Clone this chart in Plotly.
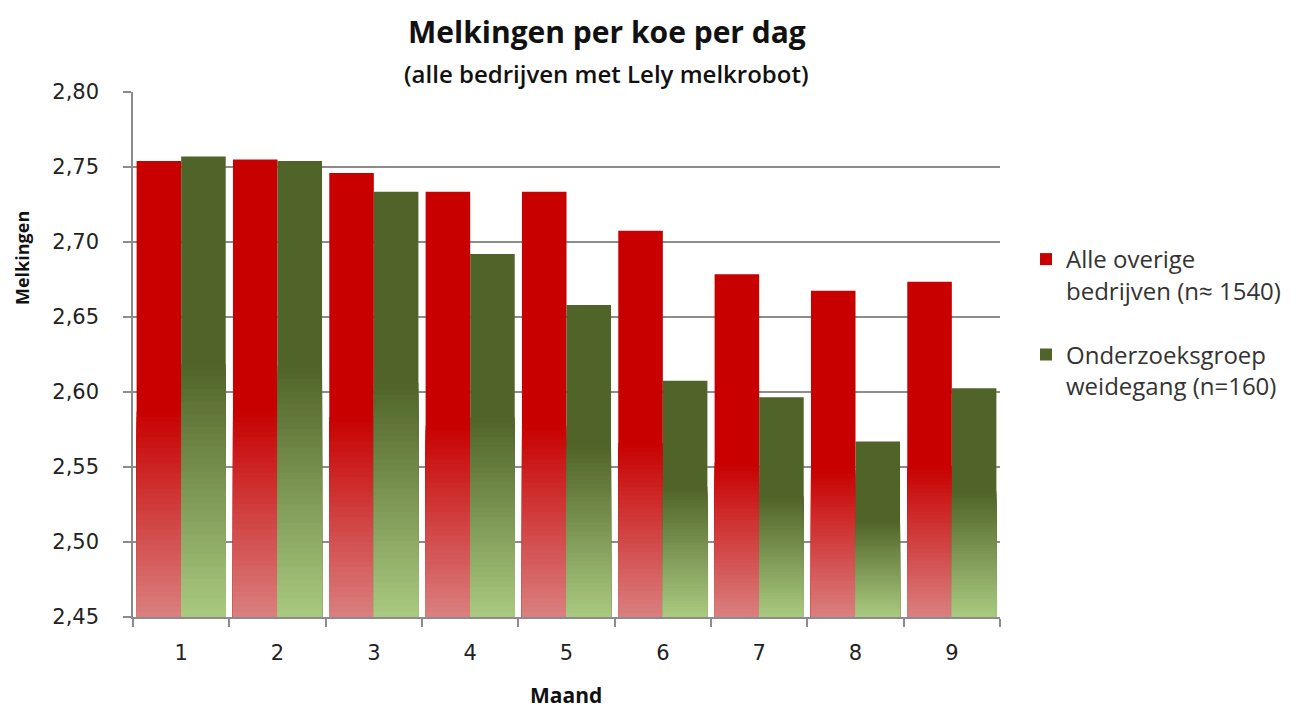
import plotly.graph_objects as go

months = ["1", "2", "3", "4", "5", "6", "7", "8", "9"]
overige = [2.754, 2.755, 2.746, 2.7335, 2.7335, 2.7075, 2.6785, 2.6675, 2.6735]
weidegang = [2.757, 2.754, 2.7335, 2.692, 2.658, 2.6075, 2.5965, 2.567, 2.6025]
series_names = ["Alle overige<br>bedrijven (n≈ 1540)", "Onderzoeksgroep<br>weidegang (n=160)"]
y_ticks = [2.45, 2.50, 2.55, 2.60, 2.65, 2.70, 2.75, 2.80]
y_min = 2.45

red_top = (200, 0, 0)
red_bottom = (218, 128, 128)
green_top = (80, 99, 40)
green_bottom = (170, 202, 128)


def rgb(c):
    return "rgb(%d,%d,%d)" % tuple(int(round(v)) for v in c)


def lerp(a, b, t):
    return tuple(a[k] + (b[k] - a[k]) * t for k in range(3))


fig = go.Figure()

specs = [
    (overige, series_names[0], "a", red_top, red_bottom, 0.45),
    (weidegang, series_names[1], "b", green_top, green_bottom, 0.55),
]

N = 40
for vals, name, grp, top, bottom, start in specs:
    fig.add_trace(go.Bar(
        x=months, y=vals, name=name, offsetgroup=grp, legendgroup=grp,
        marker=dict(color=rgb(top), line=dict(width=0)),
        hoverinfo="skip",
    ))
    for i in range(N):
        f_hi = start * (N - i) / N
        f_mid = start * (N - i - 0.5) / N
        t = 1 - f_mid / start
        col = lerp(top, bottom, t)
        fig.add_trace(go.Bar(
            x=months, y=[y_min + f_hi * (v - y_min) for v in vals],
            offsetgroup=grp, legendgroup=grp, showlegend=False, hoverinfo="skip",
            marker=dict(color=rgb(col), line=dict(width=0)),
        ))

# page is rendered with an 8px body margin; compensate so the plot lands where the reference has it
OFF = 8
PL, PR, PT, PB = 133, 1000, 92, 617
W, H = 1314 - OFF, 711 - OFF
pw, ph = PR - PL, PB - PT


def px(X):
    return (X - PL) / pw


def py(Y):
    return (PB - Y) / ph


fig.update_layout(
    width=W, height=H,
    paper_bgcolor="white", plot_bgcolor="white",
    separators=",.",
    barmode="group", bargap=0.075, bargroupgap=0,
    margin=dict(l=PL - OFF, r=1314 - PR, t=PT - OFF, b=711 - PB, autoexpand=False),
    font=dict(family="DejaVu Sans", size=21, color="#222"),
    showlegend=True,
    legend=dict(
        x=px(1026), y=py(237), xanchor="left", yanchor="top",
        font=dict(family="Open Sans", size=24, color="#333"),
        traceorder="grouped", tracegroupgap=30, itemwidth=30, valign="top",
        bgcolor="rgba(0,0,0,0)",
    ),
    annotations=[
        dict(text="Melkingen per koe per dag", x=px(607), y=py(31), xref="paper", yref="paper",
             xanchor="center", yanchor="middle", showarrow=False,
             font=dict(family="Open Sans", size=30, weight="bold", color="#111")),
        dict(text="(alle bedrijven met Lely melkrobot)", x=px(606), y=py(73), xref="paper", yref="paper",
             xanchor="center", yanchor="middle", showarrow=False,
             font=dict(family="Open Sans", size=24, weight=600, color="#111")),
        dict(text="Melkingen", x=px(22), y=py(258), xref="paper", yref="paper", textangle=-90,
             xanchor="center", yanchor="middle", showarrow=False,
             font=dict(family="Open Sans", size=18, weight="bold", color="#111")),
        dict(text="Maand", x=px(566), y=py(695), xref="paper", yref="paper",
             xanchor="center", yanchor="middle", showarrow=False,
             font=dict(family="Open Sans", size=21, weight="bold", color="#111")),
    ],
)

fig.update_yaxes(
    range=[2.45, 2.80], tickvals=y_ticks, tickformat=".2f",
    showgrid=True, gridcolor="#8c8c8c", gridwidth=1.5,
    showline=True, linecolor="#8c8c8c", linewidth=1.5,
    ticks="outside", ticklen=8, tickcolor="#8c8c8c", tickwidth=1.5,
    ticklabelstandoff=20,
    zeroline=False,
)
fig.update_xaxes(
    type="category", tickson="boundaries",
    showline=True, linecolor="#8c8c8c", linewidth=1.5,
    ticks="outside", ticklen=8, tickcolor="#8c8c8c", tickwidth=1.5,
    ticklabelstandoff=16,
    showgrid=False,
)

fig.write_html("out.html")
